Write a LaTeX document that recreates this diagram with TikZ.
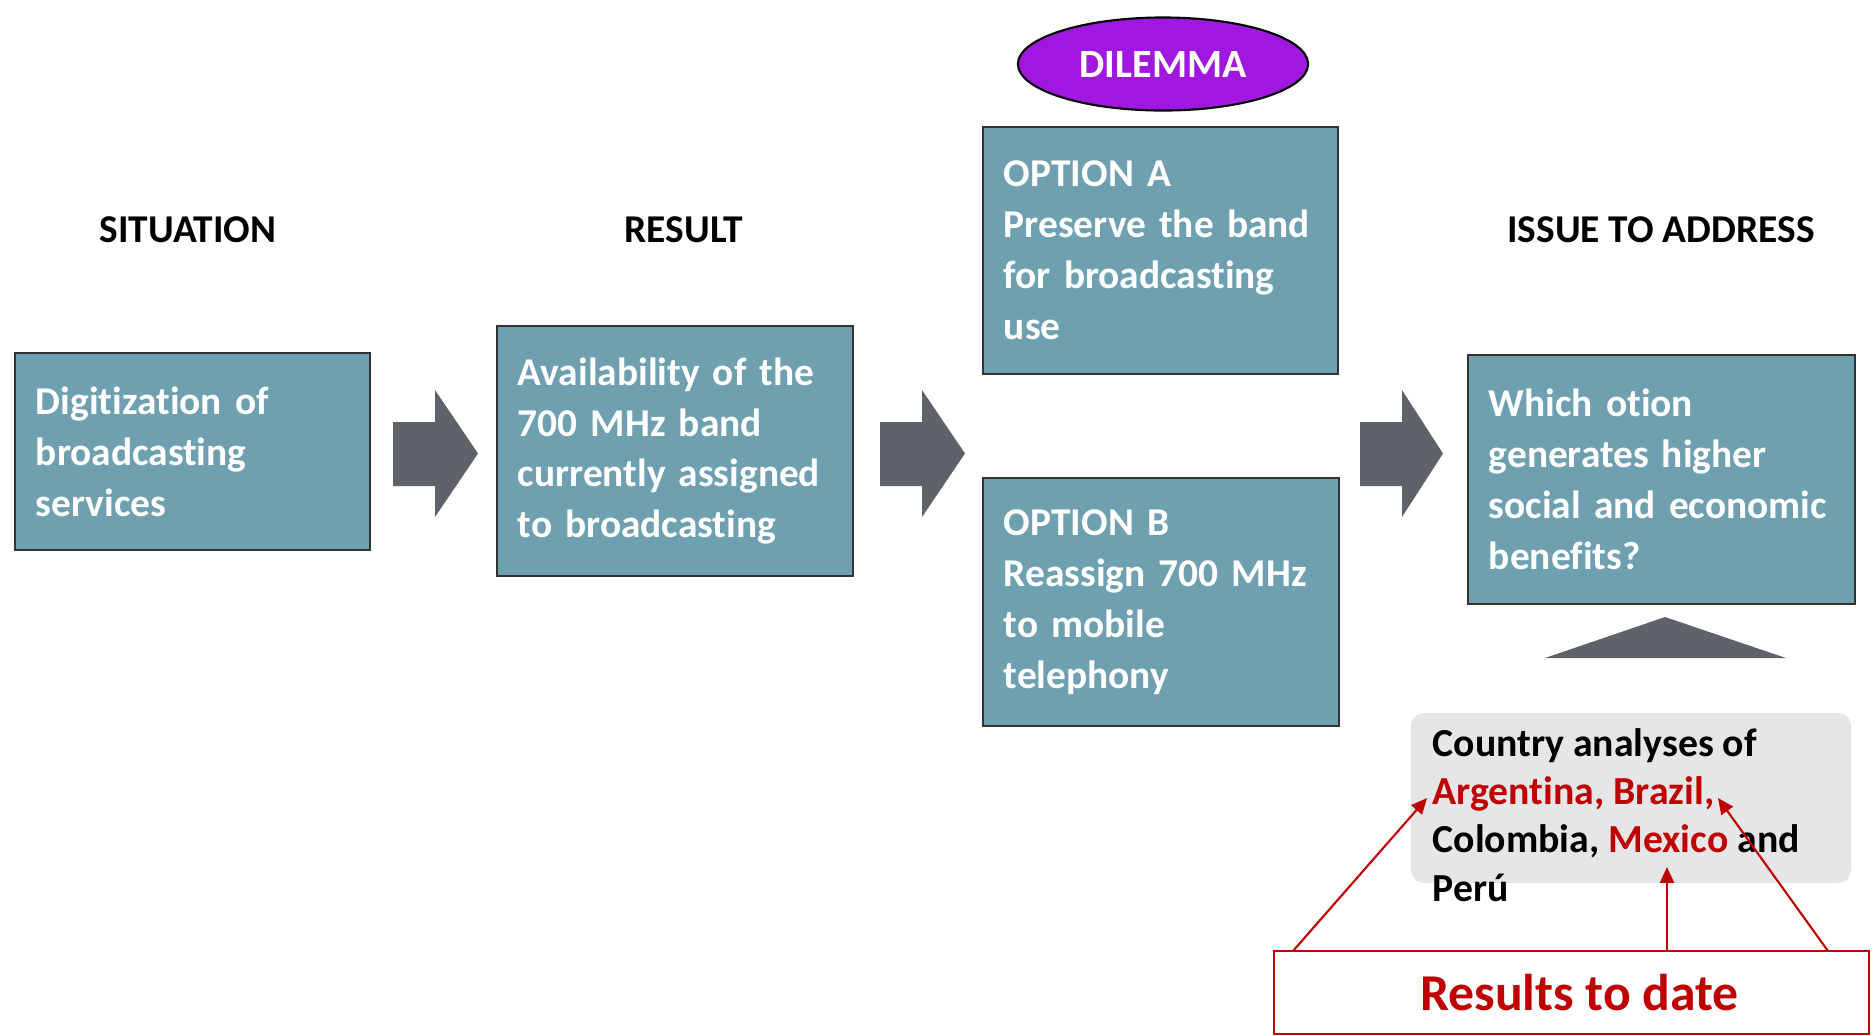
\documentclass[tikz,border=0pt]{standalone}
\usepackage{fontspec}
\setmainfont{Carlito}[Ligatures=NoCommon]
\usetikzlibrary{arrows.meta,shapes.geometric}
\definecolor{boxteal}{RGB}{111,160,176}
\definecolor{arrowgray}{RGB}{95,99,105}
\definecolor{dilpurple}{RGB}{160,24,224}
\definecolor{resred}{RGB}{192,0,0}
\definecolor{notegray}{RGB}{229,230,232}
\tikzset{
	stagebox/.style={draw=black!80, line width=0.7pt, fill=boxteal, text=white,
		font=\fontsize{11.2pt}{14.5pt}\selectfont\bfseries, align=left,
		inner xsep=0.21cm, inner ysep=0pt},
	headtext/.style={font=\fontsize{11.2pt}{14.5pt}\selectfont\bfseries, text=black},
	redarrow/.style={draw=resred, line width=0.6pt, -{Triangle[length=4.5pt,width=4pt]}}
}
\begin{document}
\begin{tikzpicture}[x=0.01cm, y=-0.01cm]
		\useasboundingbox (0,0) rectangle (1875,1035);
		
		% headings
		\node[headtext] (hsit) at (188,230)		{SITUATION};
		\node[headtext] (hres) at (684,230)		{RESULT};
		\node[headtext] (hiss) at (1661,230)		{ISSUE TO ADDRESS};
		
		% boxes
		\node[stagebox, minimum width=3.55cm, minimum height=1.97cm, text width=3.13cm] (sit) at (192.5,451.5)
			{Digitization of\\ broadcasting\\ services};
		\node[stagebox, minimum width=3.56cm, minimum height=2.5cm, text width=3.14cm] (res) at (675,451)
			{Availability of the\\ 700 MHz band\\ currently assigned\\ to broadcasting};
		\node[stagebox, minimum width=3.55cm, minimum height=2.47cm, text width=3.13cm] (opta) at (1160.5,250.5)
			{OPTION A\\ Preserve the band\\ for broadcasting\\ use};
		\node[stagebox, minimum width=3.56cm, minimum height=2.48cm, text width=3.14cm] (optb) at (1161,602)
			{OPTION B\\ Reassign 700 MHz\\ to mobile\\ telephony};
		\node[stagebox, minimum width=3.87cm, minimum height=2.49cm, text width=3.45cm] (issue) at (1661.5,479.5)
			{Which otion\\ generates higher\\ social and economic\\ benefits?};
		
		\node[ellipse, draw=black, line width=0.6pt, fill=dilpurple, text=white, minimum width=2.9cm, minimum height=0.93cm,
			font=\fontsize{11.4pt}{13pt}\selectfont\bfseries] (dilemma) at (1163,64)		{DILEMMA};
		
		% block arrows
		\foreach \ax/\tip in {393/85, 880/85, 1360/83}
			\fill[arrowgray] (\ax,422) -- (\ax+42,422) -- (\ax+42,390) -- (\ax+\tip,453.5)
				-- (\ax+42,517) -- (\ax+42,486) -- (\ax,486) -- cycle;
		\fill[arrowgray] (1545,658) -- (1665,617) -- (1786,658) -- cycle;
		
		% countries
		\node[fill=notegray, rounded corners=0.13cm, minimum width=4.4cm, minimum height=1.7cm] (note) at (1631,798) {};
		\node[anchor=north west, inner sep=0pt, align=left, text=black,
			font=\fontsize{11.3pt}{13.7pt}\selectfont\bfseries] (countries) at (1432,728)
			{Country analyses of\\ \textcolor{resred}{Argentina, Brazil,}\\ Colombia, \textcolor{resred}{Mexico} and\\ Perú};
		
		\node[draw=resred, line width=0.6pt, fill=white, text=resred, minimum width=5.95cm, minimum height=0.83cm,
			font=\fontsize{14.7pt}{16pt}\selectfont\bfseries] (results) at (1571.5,992.5)		{\hspace*{0.16cm}Results to date};
		
		\coordinate (farg) at (1293,951);
		\coordinate (fmex) at (1667,951);
		\coordinate (fbra) at (1828,951);
		\coordinate (targ) at (1427,798);
		\coordinate (tmex) at (1667,867);
		\coordinate (tbra) at (1718,798);
		\draw[redarrow] (farg) -- (targ);
		\draw[redarrow] (fmex) -- (tmex);
		\draw[redarrow] (fbra) -- (tbra);
	\end{tikzpicture}
\end{document}
